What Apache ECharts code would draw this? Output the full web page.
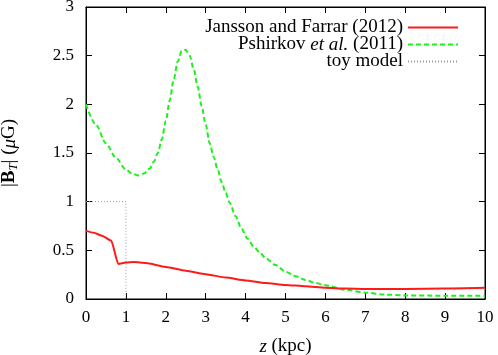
<!DOCTYPE html>
<html><head><meta charset="utf-8">
<script src="https://cdn.jsdelivr.net/npm/echarts@6/dist/echarts.min.js"></script>
<style>html,body{margin:0;padding:0;background:#fff}#c{width:498px;height:355px}</style>
</head><body><div id="c"></div>
<script>
const xTicks = [0,1,2,3,4,5,6,7,8,9,10];
const yTicks = [0,0.5,1,1.5,2,2.5,3];
const seriesNames = ['Jansson and Farrar (2012)', 'Pshirkov et al. (2011)', 'toy model'];

const zJF = [0,0.2,0.4,0.63,0.81,1.0,1.2,1.5,2.0,2.5,3.0,3.5,4.0,4.5,5.0,5.5,6.0,6.5,7.0,7.5,8.0,9.0,10.0];
const bJF = [0.70,0.68,0.65,0.60,0.36,0.375,0.38,0.37,0.33,0.29,0.255,0.22,0.19,0.165,0.145,0.13,0.115,0.107,0.103,0.102,0.103,0.108,0.115];

const zP = [0,0.25,0.5,0.75,1.0,1.15,1.3,1.45,1.6,1.7,1.8,1.9,2.0,2.1,2.2,2.3,2.4,2.5,2.6,2.7,2.8,2.9,3.0,3.1,3.2,3.3,3.4,3.5,3.6,3.75,3.9,4.05,4.2,4.35,4.5,4.75,5.0,5.25,5.5,5.75,6.0,6.5,7.0,7.5,8.0,9.0,10.0];
const bP = [2.0,1.79,1.60,1.45,1.33,1.29,1.27,1.29,1.34,1.41,1.50,1.64,1.83,2.04,2.26,2.44,2.55,2.56,2.50,2.36,2.18,1.98,1.79,1.60,1.46,1.33,1.20,1.09,0.99,0.85,0.72,0.62,0.54,0.48,0.42,0.35,0.28,0.235,0.195,0.165,0.14,0.095,0.065,0.045,0.037,0.033,0.032];

const zToy = [0,1,1];
const bToy = [1,1,0];

const pair = (xs, ys) => xs.map((x, i) => [x, ys[i]]);
const FONT = 'Liberation Serif';

function makeAxis(extra) {
  const base = {
    type: 'value',
    axisLine: {show: true, onZero: false, lineStyle: {color: '#000', width: 1}},
    axisTick: {show: true, inside: true, length: 6, lineStyle: {color: '#000', width: 1}},
    splitLine: {show: false}
  };
  return Object.assign(base, extra);
}

const chart = echarts.init(document.getElementById('c'), null, {renderer: 'canvas'});
chart.setOption({
  animation: false,
  backgroundColor: '#fff',
  grid: {left: 86, right: 13, top: 7, bottom: 56, containLabel: false, outerBoundsMode: 'none',
    show: true, borderColor: '#000', borderWidth: 1},
  legend: {
    orient: 'vertical', right: 34, top: 13, align: 'right',
    itemWidth: 50, itemHeight: 10, itemGap: -2,
    itemStyle: {opacity: 0},
    data: seriesNames,
    textStyle: {fontFamily: FONT, fontSize: 19, color: '#000',
      rich: {i: {fontFamily: FONT, fontSize: 19, fontStyle: 'italic', color: '#000'},
             n: {fontFamily: FONT, fontSize: 19, color: '#000'}}},
    formatter: function (name) {
      if (name === seriesNames[1]) return '{n|Pshirkov }{i|et al.}{n| (2011)}';
      return name;
    }
  },
  xAxis: [
    makeAxis({
      min: 0, max: 10, interval: 1, position: 'bottom',
      axisLabel: {fontFamily: FONT, fontSize: 17, color: '#000', margin: 10,
        formatter: v => xTicks.includes(v) ? String(v) : ''},
      name: '{i|z} (kpc)', nameLocation: 'middle', nameGap: 38,
      nameTextStyle: {fontFamily: FONT, fontSize: 19, color: '#000',
        rich: {i: {fontFamily: FONT, fontSize: 19, fontStyle: 'italic', color: '#000'}}}
    }),
    makeAxis({
      min: 0, max: 10, interval: 1, position: 'top', axisLabel: {show: false}
    })
  ],
  yAxis: [
    makeAxis({
      min: 0, max: 3, interval: 0.5, position: 'left',
      axisLabel: {fontFamily: FONT, fontSize: 17, color: '#000', margin: 12,
        formatter: v => yTicks.includes(v) ? String(v) : ''},
      name: '|{b|B}{s|T}| ({i|μ}G)', nameLocation: 'middle', nameGap: 66, nameRotate: 90,
      nameTextStyle: {fontFamily: FONT, fontSize: 19, color: '#000',
        rich: {
          b: {fontFamily: FONT, fontSize: 19, fontWeight: 'bold', color: '#000'},
          s: {fontFamily: FONT, fontSize: 13, fontStyle: 'italic', color: '#000', padding: [8,0,0,0]},
          i: {fontFamily: FONT, fontSize: 19, fontStyle: 'italic', color: '#000'}
        }}
    }),
    makeAxis({
      min: 0, max: 3, interval: 0.5, position: 'right', axisLabel: {show: false}
    })
  ],
  series: [
    {name: seriesNames[0], type: 'line', data: pair(zJF, bJF), smooth: 0.2, smoothMonotone: 'x', showSymbol: false, symbol: 'none',
      lineStyle: {color: '#ff1a1a', width: 2}, itemStyle: {color: '#ff1a1a'}, z: 3},
    {name: seriesNames[1], type: 'line', data: pair(zP, bP), smooth: 0.3, smoothMonotone: 'x', showSymbol: false, symbol: 'none',
      lineStyle: {color: '#1ef01e', width: 2, type: [5, 3]}, itemStyle: {color: '#1ef01e'}, z: 2},
    {name: seriesNames[2], type: 'line', xAxisIndex: 1, yAxisIndex: 1, data: pair(zToy, bToy), showSymbol: false, symbol: 'none',
      lineStyle: {color: '#999', width: 1, type: [1, 2]}, itemStyle: {color: '#999'}, z: 1}
  ]
});
</script></body></html>
